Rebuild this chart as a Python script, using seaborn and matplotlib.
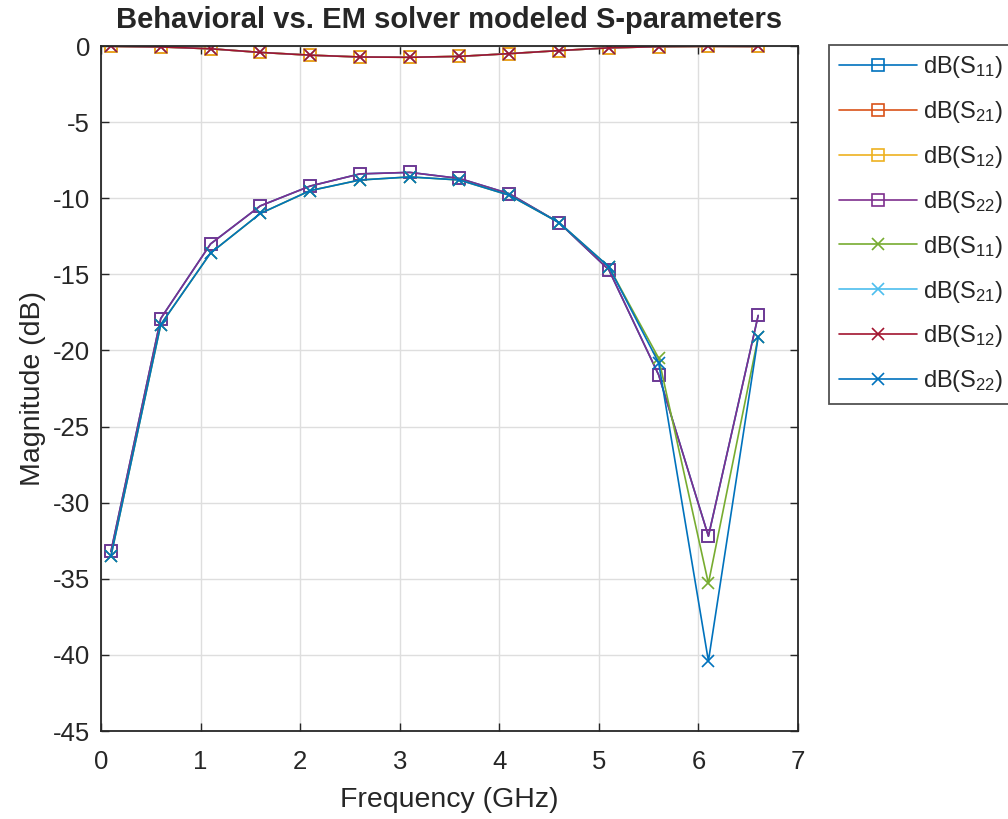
import numpy as np
import pandas as pd
import matplotlib
matplotlib.use('Agg')
import matplotlib.pyplot as plt
import seaborn as sns

# frequency points (GHz)
freq = [0.1, 0.6, 1.1, 1.6, 2.1, 2.6, 3.1, 3.6, 4.1, 4.6, 5.1, 5.6, 6.1, 6.6]

# EM solver results (dB)
em_s11 = [-33.2, -17.9, -13.0, -10.5, -9.2, -8.4, -8.3, -8.7, -9.7, -11.6, -14.7, -21.6, -32.2, -17.7]
em_s21 = [-0.02, -0.06, -0.18, -0.42, -0.6, -0.72, -0.74, -0.68, -0.5, -0.3, -0.12, -0.04, -0.02, -0.03]
em_s12 = em_s21
em_s22 = em_s11

# behavioral model results (dB)
bh_s11 = [-33.5, -18.3, -13.6, -11.0, -9.5, -8.8, -8.6, -8.8, -9.8, -11.6, -14.5, -20.5, -35.3, -19.1]
bh_s21 = [-0.02, -0.06, -0.18, -0.42, -0.6, -0.72, -0.74, -0.68, -0.5, -0.3, -0.12, -0.04, -0.02, -0.03]
bh_s12 = bh_s21
bh_s22 = [-33.5, -18.3, -13.6, -11.0, -9.5, -8.8, -8.6, -8.8, -9.8, -11.6, -14.5, -20.8, -40.4, -19.1]

series = [
    ('dB(S$_{11}$)', em_s11, '#0072BD', 's'),
    ('dB(S$_{21}$)', em_s21, '#D95319', 's'),
    ('dB(S$_{12}$)', em_s12, '#EDB120', 's'),
    ('dB(S$_{22}$)', em_s22, '#7E2F8E', 's'),
    ('dB(S$_{11}$) ', bh_s11, '#77AC30', 'x'),
    ('dB(S$_{21}$) ', bh_s21, '#4DBEEE', 'x'),
    ('dB(S$_{12}$) ', bh_s12, '#A2142F', 'x'),
    ('dB(S$_{22}$) ', bh_s22, '#0072BD', 'x'),
]

sns.set_style('white')
plt.rcParams['font.family'] = ['Liberation Sans', 'DejaVu Sans']
plt.rcParams['axes.unicode_minus'] = False
plt.rcParams['mathtext.fontset'] = 'custom'
plt.rcParams['mathtext.rm'] = 'Liberation Sans'
plt.rcParams['mathtext.it'] = 'Liberation Sans'

fig = plt.figure(figsize=(10.08, 8.19), dpi=100)
ax = fig.add_axes([0.1002, 0.1074, 0.6915, 0.8364])

for label, vals, color, mk in series:
    df = pd.DataFrame({'f': freq, 'v': vals})
    if mk == 's':
        sns.lineplot(data=df, x='f', y='v', ax=ax, color=color, linewidth=1.2,
                     marker='s', markersize=8, markerfacecolor='none',
                     markeredgecolor=color, markeredgewidth=1.2, label=label)
    else:
        sns.lineplot(data=df, x='f', y='v', ax=ax, color=color, linewidth=1.2,
                     marker='x', markersize=8, markeredgecolor=color,
                     markeredgewidth=1.2, label=label)

ax.set_xlim(0, 7)
ax.set_ylim(-45, 0)
ax.set_xticks(range(0, 8))
ax.set_yticks(range(-45, 1, 5))
ax.grid(True, color='#dedede', linewidth=1)
ax.set_axisbelow(True)
for sp in ax.spines.values():
    sp.set_color('#262626')
    sp.set_linewidth(1.3)
ax.tick_params(direction='in', length=6, width=1, colors='#262626',
               labelsize=18.5, top=True, right=True, bottom=True, left=True,
               labeltop=False, labelright=False)
ax.tick_params(axis='x', pad=14)
ax.tick_params(axis='y', pad=8)
ax.set_xlabel('Frequency (GHz)', fontsize=20.5, color='#262626', labelpad=9)
ax.set_ylabel('Magnitude (dB)', fontsize=20.5, color='#262626', labelpad=5)
ax.set_title('Behavioral vs. EM solver modeled S-parameters', fontsize=21,
             fontweight='bold', pad=13)

leg = ax.legend(loc='upper left', bbox_to_anchor=(1.045, 1.002), fontsize=17,
                frameon=True, fancybox=False, borderpad=0.4, labelspacing=0.8,
                handlelength=3.3, handletextpad=0.25, borderaxespad=0)
leg.get_frame().set_edgecolor('#262626')
leg.get_frame().set_linewidth(1.3)

fig.savefig('out.png', dpi=100)
